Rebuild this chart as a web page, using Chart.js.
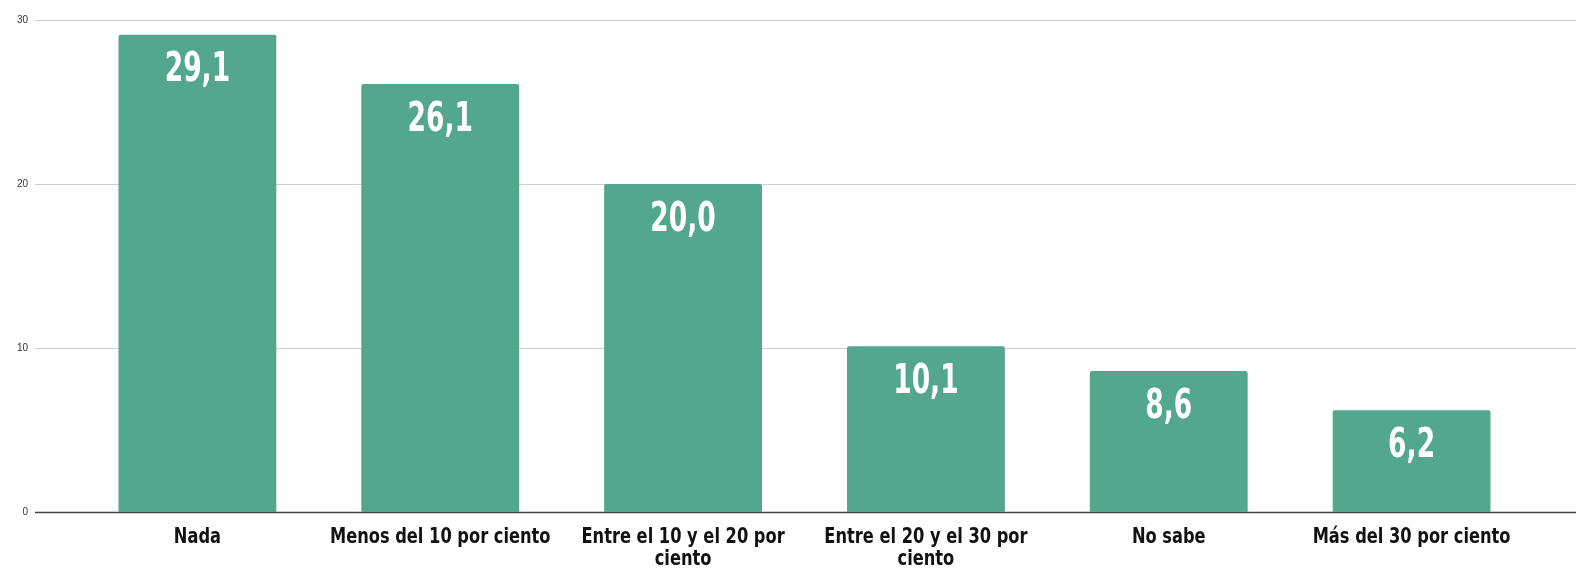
<!DOCTYPE html>
<html>
<head>
<meta charset="utf-8">
<script src="https://cdn.jsdelivr.net/npm/chart.js@4"></script>
<style>
  html, body { margin: 0; padding: 0; background: #fff; }
  #wrap { width: 1576px; height: 568px; }
</style>
</head>
<body>
<div id="wrap"><canvas id="chart" width="1576" height="568"></canvas></div>
<script>
const categories = [
  ["Nada"],
  ["Menos del 10 por ciento"],
  ["Entre el 10 y el 20 por", "ciento"],
  ["Entre el 20 y el 30 por", "ciento"],
  ["No sabe"],
  ["Más del 30 por ciento"]
];
const values = [29.1, 26.1, 20.0, 10.1, 8.6, 6.2];
const yTicks = [0, 10, 20, 30];

const narrow = "'Liberation Sans Narrow', 'Arial Narrow', 'DejaVu Sans Condensed', sans-serif";

// gridlines run wider than the plot area
const wideGrid = {
  id: 'wideGrid',
  beforeDatasetsDraw(chart) {
    const { ctx } = chart;
    const y = chart.scales.y;
    ctx.save();
    yTicks.forEach(v => {
      const py = Math.round(y.getPixelForValue(v)) + 0.5;
      ctx.beginPath();
      ctx.strokeStyle = v === 0 ? '#444' : '#cfcfcf';
      ctx.lineWidth = v === 0 ? 1.5 : 1;
      ctx.moveTo(35, py);
      ctx.lineTo(chart.width, py);
      ctx.stroke();
    });
    ctx.restore();
  }
};

// squeezed text, since no narrow bold font is installed
function narrowText(ctx, text, x, y, sx) {
  ctx.save();
  ctx.translate(x, y);
  ctx.scale(sx, 1);
  ctx.fillText(text, 0, 0);
  ctx.restore();
}

const valueLabels = {
  id: 'valueLabels',
  afterDatasetsDraw(chart) {
    const { ctx } = chart;
    const meta = chart.getDatasetMeta(0);
    ctx.save();
    ctx.fillStyle = '#fff';
    ctx.font = "bold 41px " + narrow;
    ctx.textAlign = 'center';
    ctx.textBaseline = 'middle';
    meta.data.forEach((bar, i) => {
      narrowText(ctx, values[i].toFixed(1).replace('.', ','), bar.x, bar.y + 36, 0.72);
    });
    ctx.restore();
  }
};

const xLabels = {
  id: 'xLabels',
  afterDraw(chart) {
    const { ctx } = chart;
    const x = chart.scales.x;
    const top = chart.chartArea.bottom;
    ctx.save();
    ctx.fillStyle = '#111';
    ctx.font = "bold 21px " + narrow;
    ctx.textAlign = 'center';
    ctx.textBaseline = 'middle';
    categories.forEach((lines, i) => {
      const px = x.getPixelForTick(i);
      lines.forEach((t, j) => narrowText(ctx, t, px, top + 26 + j * 22, 0.86));
    });
    ctx.restore();
  }
};

new Chart(document.getElementById('chart'), {
  type: 'bar',
  data: {
    labels: categories,
    datasets: [{
      data: values,
      backgroundColor: '#53a78c',
      borderRadius: 2,
      borderSkipped: 'bottom',
      barPercentage: 0.65,
      categoryPercentage: 1
    }]
  },
  options: {
    responsive: false,
    animation: false,
    layout: { padding: { top: 20, right: 43, left: 0, bottom: 0 } },
    plugins: { legend: { display: false }, tooltip: { enabled: false } },
    scales: {
      x: {
        grid: { display: false },
        border: { display: false },
        ticks: { display: false },
        afterFit(scale) { scale.height = 56; }
      },
      y: {
        min: 0,
        max: 30,
        // tickLength only pushes the labels left, the grid itself is drawn by wideGrid
        grid: { display: false, drawTicks: true, tickLength: 44 },
        border: { display: false },
        afterFit(scale) { scale.width = 76; },
        ticks: {
          stepSize: 10,
          color: '#333',
          padding: 4,
          font: { family: 'Liberation Sans', size: 10 }
        }
      }
    }
  },
  plugins: [wideGrid, valueLabels, xLabels]
});
</script>
</body>
</html>
